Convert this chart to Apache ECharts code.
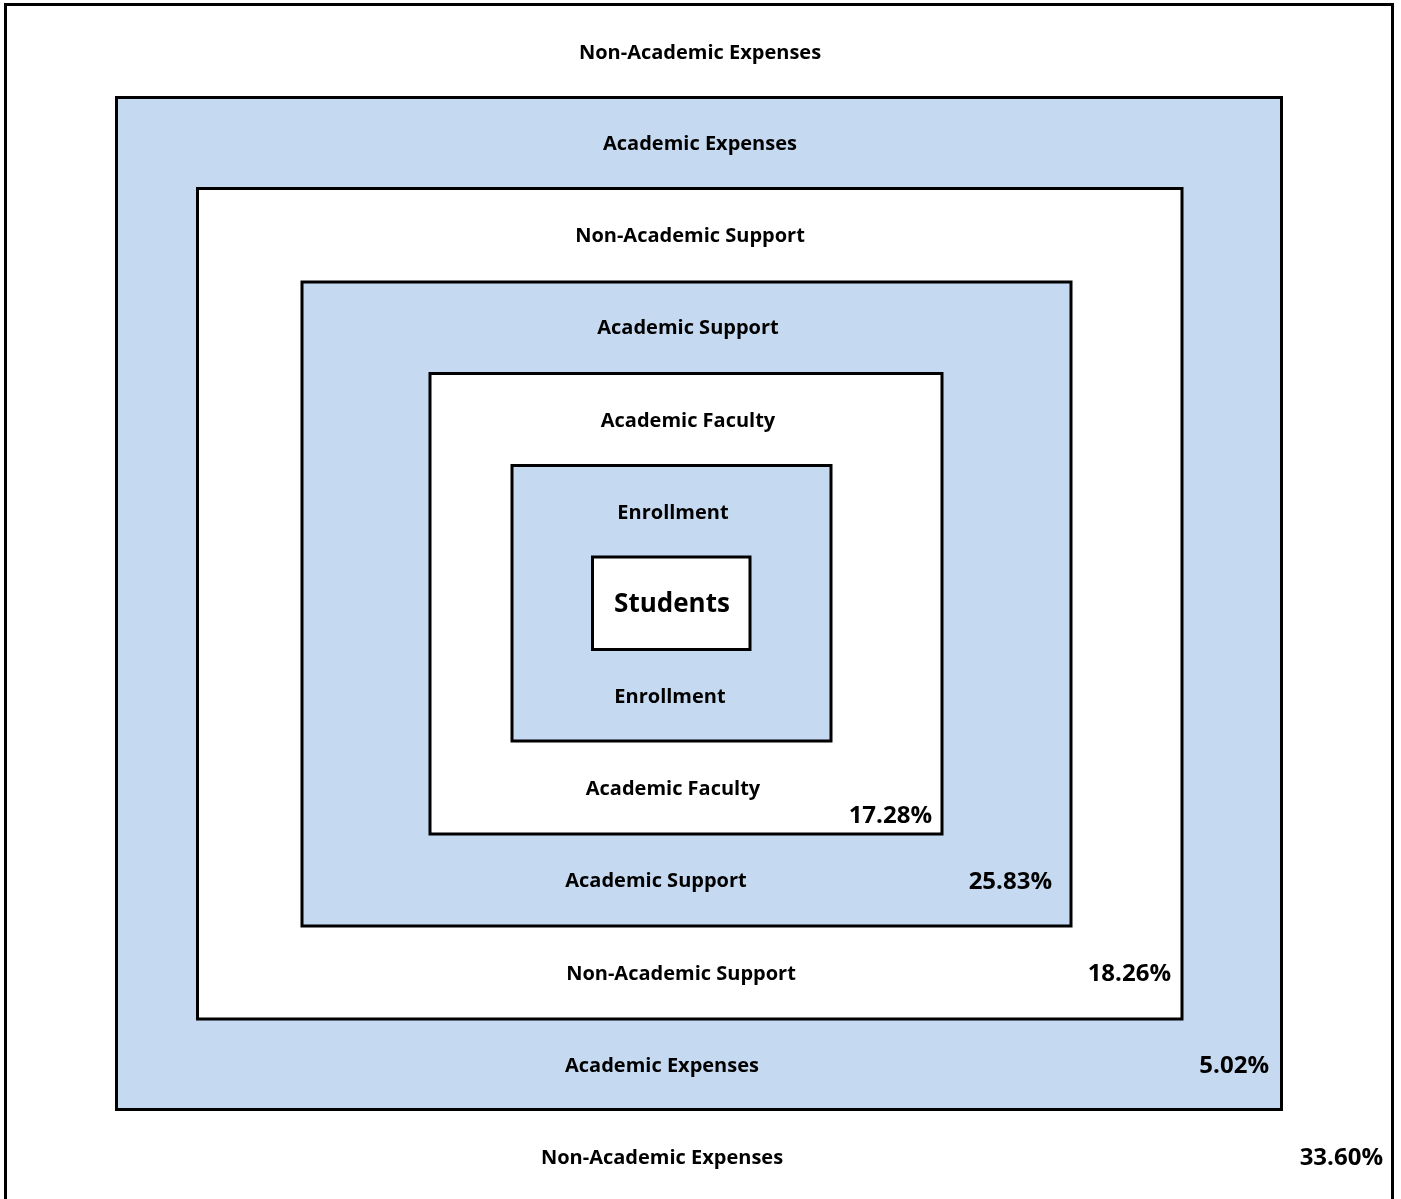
<!DOCTYPE html>
<html>
<head>
<meta charset="utf-8">
<script src="https://cdn.jsdelivr.net/npm/echarts@6/dist/echarts.min.js"></script>
<style>
html,body{margin:0;padding:0;background:#fff;}
#c{width:1401px;height:1199px;}
</style>
</head>
<body>
<div id="c"></div>
<script>
// ---- data ----
const layerNames = ['Non-Academic Expenses','Academic Expenses','Non-Academic Support','Academic Support','Academic Faculty','Enrollment','Students'];
const layerPercents = ['33.60%','5.02%','18.26%','25.83%','17.28%','',''];
const layerFills = ['#ffffff','#c5d9f1','#ffffff','#c5d9f1','#ffffff','#c5d9f1','#ffffff'];

// ---- layout (rect border centres in the 1401x1199 frame) ----
const rectBounds = [
  [5.5, 4.5, 1392.5, 1201],
  [116.5, 97.5, 1281.5, 1109.5],
  [197.5, 188.5, 1182, 1019],
  [302, 282, 1071, 926],
  [430, 373.5, 942, 834],
  [512, 465.5, 831, 741],
  [592.5, 557, 750, 649.5]
];
// [topLabelX, topLabelY, bottomLabelX, bottomLabelY, pctRightX, pctY]
const labelPos = [
  [700, 53, 662, 1158, 1383, 1158],
  [700, 144, 662, 1066, 1269, 1066],
  [690, 236, 681, 974, 1171, 974],
  [688, 328, 656, 881, 1052, 882],
  [688, 421, 673, 789, 932, 816],
  [673, 513, 670, 697, 0, 0],
  [672, 605, 0, 0, 0, 0]
];

const FONT = '"Open Sans"';
const seriesData = layerNames.map((n, i) => [i]);

const chart = echarts.init(document.getElementById('c'), null, {renderer: 'canvas'});
chart.setOption({
  animation: false,
  backgroundColor: '#ffffff',
  grid: {left: 0, right: 0, top: 0, bottom: 0},
  xAxis: {type: 'value', min: 0, max: 1401, show: false},
  yAxis: {type: 'value', min: 0, max: 1199, inverse: true, show: false},
  series: [{
    type: 'custom',
    coordinateSystem: 'cartesian2d',
    data: seriesData,
    clip: false,
    renderItem: function (params, api) {
      const i = api.value(0);
      const b = rectBounds[i];
      const p1 = api.coord([b[0], b[1]]);
      const p2 = api.coord([b[2], b[3]]);
      const lp = labelPos[i];
      const children = [{
        type: 'rect',
        shape: {x: p1[0], y: p1[1], width: p2[0] - p1[0], height: p2[1] - p1[1]},
        style: {fill: layerFills[i], stroke: '#000', lineWidth: 3}
      }];
      const isCore = i === layerNames.length - 1;
      const fs = isCore ? 26 : 20;
      const t = api.coord([lp[0], lp[1]]);
      children.push({
        type: 'text',
        x: t[0], y: t[1],
        style: {text: layerNames[i], fill: '#000', font: 'bold ' + fs + 'px ' + FONT, align: 'center', verticalAlign: 'middle'}
      });
      if (!isCore) {
        const t2 = api.coord([lp[2], lp[3]]);
        children.push({
          type: 'text',
          x: t2[0], y: t2[1],
          style: {text: layerNames[i], fill: '#000', font: 'bold ' + fs + 'px ' + FONT, align: 'center', verticalAlign: 'middle'}
        });
      }
      if (layerPercents[i]) {
        const t3 = api.coord([lp[4], lp[5]]);
        children.push({
          type: 'text',
          x: t3[0], y: t3[1],
          style: {text: layerPercents[i], fill: '#000', font: 'bold 24px ' + FONT, align: 'right', verticalAlign: 'middle'}
        });
      }
      return {type: 'group', children: children};
    }
  }]
});
</script>
</body>
</html>
